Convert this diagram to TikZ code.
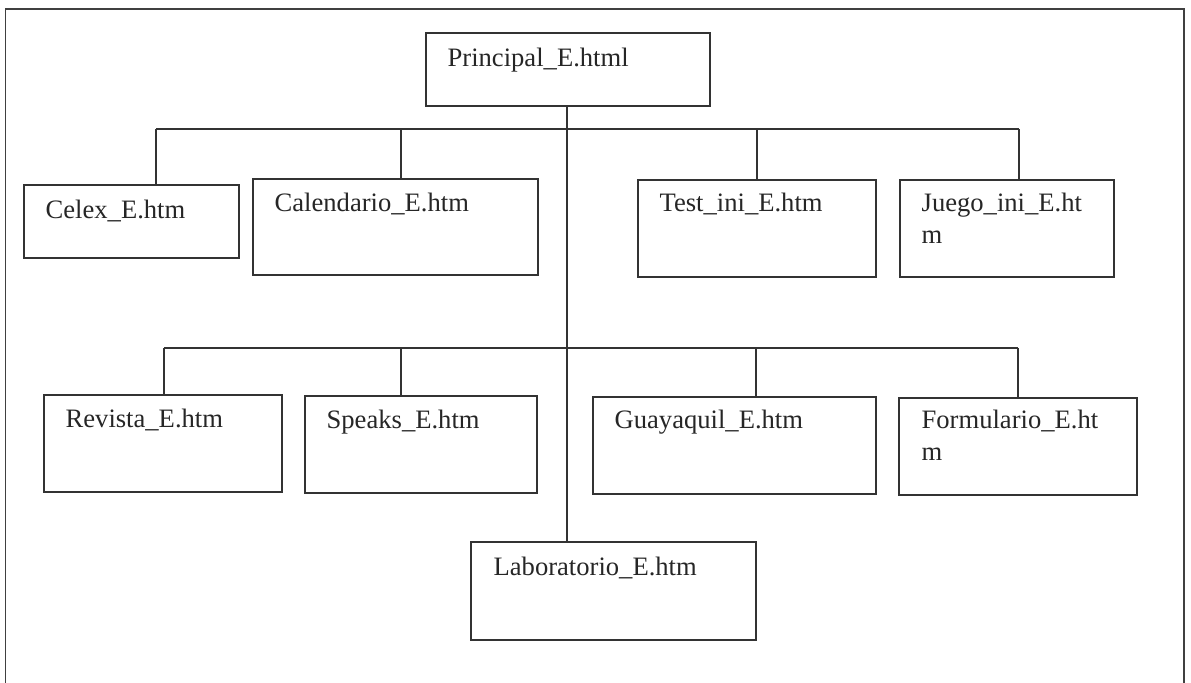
\documentclass[tikz,border=0pt]{standalone}
\usepackage{fontspec}
\setmainfont{Liberation Serif}
\usetikzlibrary{calc}
\begin{document}
\begin{tikzpicture}[x=0.5pt,y=-0.5pt,
  line width=0.65pt,
  box/.style={draw=black!80, rectangle, inner sep=0pt, outer sep=0pt, anchor=north west},
  lbl/.style={anchor=base west, inner sep=0pt, font=\fontsize{13.3}{16}\selectfont, text=black!85, align=left},
  conn/.style={draw=black!80},
  frame/.style={draw=black!75}]
\useasboundingbox (0,0) rectangle (1191,683);
% outer frame
\coordinate (fbl) at (5.5,683);
\coordinate (ftl) at (5.5,9);
\coordinate (ftr) at (1184,9);
\coordinate (fbr) at (1184,683);
\draw[frame] (fbl) -- (ftl) -- (ftr) -- (fbr);
% boxes
\node[box, minimum width=142pt, minimum height=36.5pt] (principal) at (426,33) {};
\node[box, minimum width=107.5pt, minimum height=36.5pt] (celex) at (24,185) {};
\node[box, minimum width=142.5pt, minimum height=48pt] (calendario) at (253,179) {};
\node[box, minimum width=119pt, minimum height=48.5pt] (test) at (638,180) {};
\node[box, minimum width=107pt, minimum height=48.5pt] (juego) at (900,180) {};
\node[box, minimum width=119pt, minimum height=48.5pt] (revista) at (44,395) {};
\node[box, minimum width=116pt, minimum height=48.5pt] (speaks) at (305,396) {};
\node[box, minimum width=141.5pt, minimum height=48.5pt] (guayaquil) at (593,397) {};
\node[box, minimum width=119pt, minimum height=48.5pt] (formulario) at (899,398) {};
\node[box, minimum width=142.5pt, minimum height=49pt] (laboratorio) at (471,542) {};
% labels
\node[lbl] (principal-t) at ($(principal.north west)+(21,34)$) {Principal\_E.html};
\node[lbl] (celex-t) at ($(celex.north west)+(21,34)$) {Celex\_E.htm};
\node[lbl] (calendario-t) at ($(calendario.north west)+(21,33)$) {Calendario\_E.htm};
\node[lbl] (test-t) at ($(test.north west)+(21,32)$) {Test\_ini\_E.htm};
\node[lbl] (juego-t) at ($(juego.north west)+(21,64)$) {Juego\_ini\_E.ht\\m};
\node[lbl] (revista-t) at ($(revista.north west)+(21,33)$) {Revista\_E.htm};
\node[lbl] (speaks-t) at ($(speaks.north west)+(21,33)$) {Speaks\_E.htm};
\node[lbl] (guayaquil-t) at ($(guayaquil.north west)+(21,32)$) {Guayaquil\_E.htm};
\node[lbl] (formulario-t) at ($(formulario.north west)+(22,63)$) {Formulario\_E.ht\\m};
\node[lbl] (laboratorio-t) at ($(laboratorio.north west)+(22,34)$) {Laboratorio\_E.htm};
% buses
\coordinate (b1l) at (156,129);
\coordinate (b1a) at (401,129);
\coordinate (b1b) at (757,129);
\coordinate (b1r) at (1019,129);
\coordinate (b2l) at (164,348);
\coordinate (b2a) at (401,348);
\coordinate (b2b) at (756,348);
\coordinate (b2r) at (1018,348);
\coordinate (trunk) at (567,106);
\draw[conn] (b1l) -- (b1r);
\draw[conn] (b2l) -- (b2r);
\draw[conn] (trunk) -- (trunk |- laboratorio.north);
\draw[conn] (b1l) -- (b1l |- celex.north);
\draw[conn] (b1a) -- (b1a |- calendario.north);
\draw[conn] (b1b) -- (b1b |- test.north);
\draw[conn] (b1r) -- (b1r |- juego.north);
\draw[conn] (b2l) -- (b2l |- revista.north);
\draw[conn] (b2a) -- (b2a |- speaks.north);
\draw[conn] (b2b) -- (b2b |- guayaquil.north);
\draw[conn] (b2r) -- (b2r |- formulario.north);
\end{tikzpicture}
\end{document}
